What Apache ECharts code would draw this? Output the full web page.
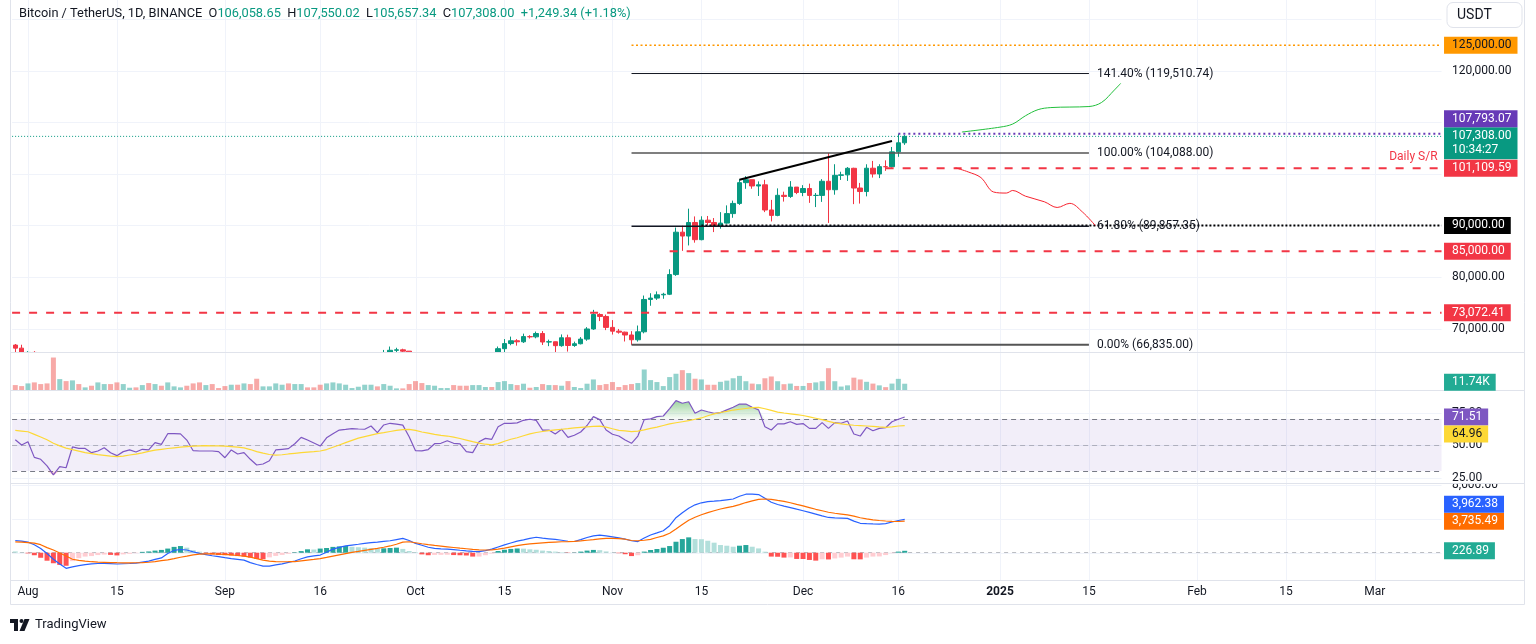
<!DOCTYPE html>
<html>
<head>
<meta charset="utf-8">
<title>BTCUSDT 1D</title>
<script src="https://cdn.jsdelivr.net/npm/echarts/dist/echarts.min.js"></script>
<style>
html,body{margin:0;padding:0;background:#fff;}
#chart{width:1536px;height:644px;}
</style>
</head>
<body>
<div id="chart"></div>
<script>
// ================= DATA =================
const startDate = '2024-07-30';
const axisEndDate = '2025-03-11';

// daily [open, high, low, close] from 2024-07-30 to 2024-12-17
const ohlc = [
[66784,66990,65302,66189],[66189,66849,64530,64620],
[64620,65593,62248,65354],[65354,65596,61236,61498],[61498,62198,59850,60697],[60697,61117,57122,58161],[58161,58305,49000,54018],
[54018,57040,53962,56022],[56022,57736,54558,55134],[55134,62745,54730,61685],[61685,61744,59565,60837],[60837,61470,60242,60923],
[60923,61858,58286,58713],[58713,60680,57688,59346],[59346,61578,58392,60587],[60587,61800,58433,58683],[58683,59849,56078,57541],
[57541,59817,57098,58874],[58874,59700,58785,59491],[59491,60284,58408,58427],[58427,59617,57787,59438],[59438,61400,58548,59013],
[59013,61820,58783,61157],[61157,61400,59724,60381],[60381,64955,60345,64094],[64094,64513,63519,64179],[64179,65000,63773,64520],
[64520,64960,62800,62834],[62834,63213,58034,59416],[59416,60235,57860,59034],[59034,61166,58755,59359],[59359,59944,57701,59123],
[59123,59462,58744,58973],
[58973,59054,57118,57301],[57301,59425,57128,59132],[59132,59809,57415,57487],[57487,58519,55606,57970],[57970,58327,55643,56160],
[56160,56995,52550,53962],[53962,54850,53745,54160],[54160,55318,53629,54869],[54869,58088,54591,57042],[57042,58044,56386,57635],
[57635,57981,55545,57338],[57338,58588,57324,58127],[58127,60676,57632,60571],[60571,60656,59537,60005],[60005,60381,58696,59182],
[59182,59209,57493,58192],[58192,61320,57610,60309],[60309,61786,59174,61759],[61759,63850,61555,62947],[62947,64133,62350,63201],
[63201,63559,62758,63348],[63348,64000,62357,63578],[63578,64745,62538,63650],[63650,64688,62700,64262],[64262,64817,62947,63152],
[63152,65839,62670,65173],[65173,66498,64819,65769],[65769,66260,65422,65858],[65858,66076,65432,65602],[65602,65618,62856,63327],
[63327,64130,60164,60805],[60805,62370,59996,60649],[60649,61477,59828,60752],[60752,62484,60459,62086],[62086,62370,61689,62110],
[62110,62975,61798,62819],[62819,64478,62128,62224],[62224,63200,61860,62160],[62160,62543,60300,60636],[60636,61321,58946,60700],
[60700,63417,60087,62540],[62540,63480,62487,63206],[63206,63285,62050,62870],[62870,66500,62457,66083],[66083,67950,64800,67074],
[67074,68424,66750,67620],[67620,67939,66666,67421],[67421,69000,67192,68428],[68428,68700,68046,68378],[68378,69400,68100,69031],
[69031,69500,66800,67377],[67377,67836,66571,67426],[67426,67472,65260,66668],[66668,68850,66458,68199],[68199,68800,65520,66698],
[66698,67454,66439,67041],[67041,68332,66913,67939],[67939,70270,67618,69907],[69907,73620,69730,72720],[72720,72962,71436,72339],
[72339,72700,69685,70216],
[70216,71632,68820,69482],[69482,69914,69000,69289],[69289,69390,67478,68741],[68741,69483,66835,67811],[67811,70577,67458,69359],
[69358,76400,69058,75640],[75640,76849,74416,75904],[75904,77199,75555,76538],[76538,76932,75773,76649],[76649,81500,76492,80475],
[80471,89604,80216,88701],[88705,89956,85072,87955],[87955,93265,86127,90585],[90587,91765,86668,87250],[87251,91790,87126,91032],
[91032,91850,90091,90587],[90587,91449,88722,89855],[89855,92594,89376,90465],[90465,93905,90357,92310],[92310,94831,91500,94286],
[94286,98988,94000,98317],[98317,99588,97122,98892],[98892,98908,97136,97673],[97673,98564,95734,97900],[97900,98871,92600,93010],
[93010,94973,90791,91965],[91965,97208,91792,95863],[95863,96564,94640,95643],[95643,98619,95364,97460],[97460,97463,96092,96407],
[96407,97836,95693,97185],[97185,98130,94395,95840],[95840,96305,93578,95849],[95849,99000,94587,98587],[98587,104088,90500,96945],
[96945,101898,95981,99740],[99740,100439,98844,99831],[99831,101351,98657,101109],[101109,101215,94150,97276],[97276,98270,94256,96593],
[96593,101888,95658,101125],[101125,102540,99311,100004],[100004,101895,99205,101424],[101424,102650,100609,101420],[101420,105250,101237,104298],
[104298,107793,103333,106058.66],[106058.65,107550.02,105657.34,107308.00]
];

// volume (thousands of BTC)
const volume = [
9.5,7.8,12.3,14,11.2,12.3,56,19.6,16.2,17.4,11.2,5.6,
8.4,14,11.2,11.2,14,11.2,5,5.6,9.5,12.9,
11.2,8.4,14,7.3,5.6,8.4,12.3,14,9.5,11.2,
4.5,7.8,10.1,10.1,12.3,11.2,20.2,7.3,7.3,12.3,
10.1,12.3,11.2,11.2,5.6,5.6,10.1,12.3,14,12.3,
10.1,4.5,6.7,10.1,10.1,7.3,11.2,8.4,3.9,3.9,
11.2,16.2,12.9,9.5,8.4,4.5,4.5,9.5,8.4,8.4,
9.5,9.5,6.2,6.2,14.6,16.2,11.2,9.5,11.8,5,
6.2,11.2,9.5,9.5,8.4,16.2,6.2,4.5,11.8,19,
9.5,11.2,14.6,6.2,9.5,11.2,12.9,35.8,17.9,14.6,
7.8,23,28.6,34.7,29.7,20.2,19,10,10,15,
17,21,25,16,12,11,21,24,16,11,
12,8,8,13,14,16,38,16,7,9,
22,19,15,12,9,6,12,20,11.74
];

const rsi = [
54,50,52.5,40.5,39,34,27,33.3,32.5,48.5,47.4,47.4,
44.1,45.4,47.9,44.1,41.8,44.9,46.2,44.6,46.7,46.2,
51.8,50.5,58.7,58.7,58.6,53.8,45.6,45.4,45.4,45.4,
44.9,40.2,46.2,43.1,44.1,39,34.6,35.4,37.9,46.2,
46.7,47.2,51,55.9,53.8,51.5,49.2,55.5,58.7,61.5,
62,62.6,62.3,62.1,64.6,59.5,65.4,66.7,66,65.3,
56.4,45.6,45.5,46.5,51,51.3,53.3,51.3,50.8,44.9,
44.1,52.5,55.1,54.4,64.1,66.7,66.7,67,69,69.8,
69,61.5,61.5,58.5,62.1,55.9,57.5,60,65,71.8,
69.5,61.5,58.3,56.9,53.8,51.3,56.9,69.5,70.1,71.8,
72.3,78,84.1,82.1,83.3,74.4,76.9,75.6,74.4,74.9,
77,79,81.5,81.5,79,77,64.1,61.5,66.2,66.2,
67.9,65.9,66.5,62.8,62.8,67.2,62.8,67.2,66.7,68.5,
58.5,56.9,63.6,61,62.8,63.3,67.9,69.8,71.51
];

const rsiMA = [
61.2,60.7,60.2,58.2,56.2,54,51.4,49.3,47.6,46.4,45.3,44.2,
43.4,42.6,42,41.4,41,41.5,42.3,43,44,45.1,
46.1,46.7,47.3,47.8,48.3,48.7,49.1,49.4,49.5,49.4,
49.3,49.1,48.8,48.4,47.8,46.5,44.9,43.7,42.7,42.2,
42.5,43.1,43.6,44.1,44.5,44.9,45.4,46.5,48.3,50,
51.8,53.6,55.3,56.5,57.6,58.7,59.5,60.4,61.2,61.8,
62,61.3,60,59.1,58.2,57.4,56.9,56,55,53.8,
52.6,51.5,50.6,50.1,51.1,52.9,54.4,55.6,57.1,58.5,
59.6,60.4,61,61.6,62.1,62.6,63.2,63.6,64,64.3,
64.5,63.8,62.5,61.3,60.8,60.3,60.7,61.6,62.8,63.8,
65,66.2,67.1,67.9,68.7,69.8,70.8,72.5,73.9,75,
75.9,76.9,77.5,78.1,78.7,78.9,77.9,76.6,75.3,74.6,
74,73.4,72.7,71.7,70.6,69.5,68.2,67,66.3,65.7,
65.2,64.9,64.6,64.3,63.9,63.6,64,64.6,64.96
];

const macd = [
1450,1370,1250,950,500,-100,-780,-1350,-1850,-1680,-1530,-1410,
-1330,-1280,-1260,-1300,-1340,-1310,-1280,-1230,-1110,-990,
-800,-620,-100,270,380,320,90,-80,-220,-360,
-470,-590,-700,-790,-880,-1170,-1400,-1600,-1600,-1450,
-1320,-1150,-980,-720,-490,-370,-280,50,420,630,
800,910,1000,1100,1190,1260,1340,1420,1560,1700,
1450,1100,880,650,510,460,420,370,290,220,
160,130,250,430,680,930,1150,1370,1530,1700,
1830,1730,1650,1570,1480,1360,1330,1550,1800,2000,
2080,2000,1880,1750,1620,1420,1320,1750,2100,2350,
2610,3200,4150,4750,5280,5680,5920,6060,6110,6170,
6270,6370,6700,6940,6960,6900,6450,5980,5720,5520,
5350,5160,4980,4780,4580,4360,4180,4130,4100,4070,
3750,3490,3440,3410,3400,3450,3640,3820,3962.38
];

const signal = [
1280,1250,1200,1130,950,600,320,-30,-400,-780,-900,-1000,
-1070,-1110,-1140,-1170,-1186,-1195,-1195,-1190,-1180,-1130,
-1050,-950,-850,-700,-540,-400,-250,-180,-150,-150,
-160,-200,-260,-330,-400,-530,-700,-880,-1000,-1060,
-1075,-1070,-1050,-960,-870,-790,-700,-560,-400,-250,
-100,30,150,280,400,520,650,800,1000,1250,
1300,1180,1060,950,860,780,700,620,540,470,
400,340,320,330,420,550,700,830,950,1050,
1115,1170,1220,1260,1300,1320,1350,1400,1480,1550,
1650,1700,1700,1680,1600,1450,1420,1480,1590,1800,
2000,2300,2800,3350,3850,4200,4500,4750,4980,5180,
5350,5500,5700,5950,6150,6330,6370,6330,6200,6080,
5930,5730,5550,5350,5150,4980,4800,4680,4580,4480,
4330,4150,4020,3900,3820,3760,3720,3700,3735.49
];

const histogram = [
150,30,-80,-300,-600,-950,-1250,-1450,-1550,-1000,-650,-460,
-400,-280,-220,-260,-320,-200,-130,-60,100,150,
250,330,490,690,790,600,300,120,-100,-200,
-280,-300,-330,-400,-460,-580,-740,-760,-550,-380,
-260,-130,50,190,400,380,490,560,690,750,
790,700,650,600,550,500,520,560,600,450,
200,60,-200,-300,-260,-250,-240,-280,-300,-330,
-460,-460,-300,-100,200,350,450,500,480,400,
350,250,200,130,60,-30,20,130,250,330,
300,150,30,-60,-180,-400,-300,130,320,440,
590,790,1300,1620,1820,1620,1600,1420,1190,910,
830,710,830,910,710,510,120,-460,-480,-580,
-560,-740,-750,-860,-940,-780,-800,-680,-580,-460,
-780,-790,-580,-460,-440,-280,-60,130,226.89
];

// time axis ticks
const timeTickDates = ['2024-08-01','2024-08-15','2024-09-01','2024-09-16','2024-10-01','2024-10-15','2024-11-01','2024-11-15','2024-12-01','2024-12-16','2025-01-01','2025-01-15','2025-02-01','2025-02-15','2025-03-01'];
const timeTickLabels = ['Aug','15','Sep','16','Oct','15','Nov','15','Dec','16','2025','15','Feb','15','Mar'];

// value axis ticks
const priceTicks = [70000,80000,90000,100000,110000,120000,130000];
const rsiTicks = [25,50,75];
const rsiBands = [30,70];
const macdTicks = [0,4000,8000];

// horizontal levels (price, start date; null = from left edge)
const levelPrices = [125000, 107793.07, 107308.00, 101109.59, 90000, 85000, 73072.41];
const levelStarts = ['2024-11-04','2024-12-16',null,'2024-12-14','2024-11-15','2024-11-10',null];

// Fibonacci extension
const fibLabels = ['141.40%','100.00%','61.80%','0.00%'];
const fibPrices = [119510.74, 104088.00, 89857.35, 66835.00];
const fibDates = ['2024-11-04','2025-01-15'];

// trend line
const trendDates = ['2024-11-21','2024-12-15'];
const trendPrices = [98900, 106400];

// projected paths
const bullPathDates = ['2024-12-26','2025-01-01','2025-01-03','2025-01-05','2025-01-07','2025-01-09','2025-01-12','2025-01-15','2025-01-17','2025-01-19','2025-01-20'];
const bullPathPrices = [108150,109100,109700,111300,112500,112900,113000,113100,113900,116300,117600];
const bearPathDates = ['2024-12-25','2024-12-27','2024-12-29','2024-12-31','2025-01-02','2025-01-03','2025-01-05','2025-01-08','2025-01-10','2025-01-12','2025-01-14','2025-01-16'];
const bearPathPrices = [101200,100400,99300,96500,96300,96800,95700,94600,93500,94300,92600,90000];

const headerTitle = 'Bitcoin / TetherUS, 1D, BINANCE';
const headerValues = ['106,058.65','107,550.02','105,657.34','107,308.00','+1,249.34 (+1.18%)'];
const countdown = '10:34:27';

// ================= RENDER =================
const FONT = 'Roboto, "Noto Sans", "DejaVu Sans", sans-serif';
const DAY = 86400000;
const parseD = s => { const p = s.split('-').map(Number); return Date.UTC(p[0], p[1]-1, p[2]); };
const T0 = parseD(startDate);
const idxOf = s => Math.round((parseD(s) - T0) / DAY);
const categories = [];
for (let t = T0; t <= parseD(axisEndDate); t += DAY) categories.push(new Date(t).toISOString().slice(0,10));
const N = categories.length;
const X_MIN = -0.5, X_MAX = N - 0.5;

const UP = '#089981', DOWN = '#f23645';
const W = 1536;
const GL = 12.1, STEP = 6.353;
const GR = W - GL - STEP * N;
const PANES = [[0, 352.5], [353.2, 390.7], [391, 483], [484, 580]];
const RANGES = [[65340, 133786], [0, 63.3], [20.77, 91.54], [-3238, 8150]];

const tickMap = new Map(timeTickDates.map((d, i) => [d, timeTickLabels[i]]));

const grids = PANES.map(p => ({left: GL, right: GR, top: p[0], height: p[1] - p[0]}));
const xAxes = PANES.map((p, g) => ({
  type: 'category', gridIndex: g, data: categories, boundaryGap: true, z: 10,
  axisLine: {show: false}, axisTick: {show: false}, splitLine: {show: false},
  axisPointer: {show: false},
  axisLabel: g === 3 ? {
    show: true, interval: (i, v) => tickMap.has(v),
    formatter: v => tickMap.get(v) === '2025' ? '{b|2025}' : (tickMap.get(v) || ''),
    color: '#131722', fontSize: 12, fontFamily: FONT, margin: 6,
    rich: {b: {fontWeight: 'bold', color: '#131722', fontSize: 12, fontFamily: FONT}}
  } : {show: false}
}));
xAxes.push({type: 'value', gridIndex: 0, min: X_MIN, max: X_MAX, show: false});
const yAxes = PANES.map((p, g) => ({type: 'value', gridIndex: g, min: RANGES[g][0], max: RANGES[g][1], show: false, scale: true}));

const series = [];
// candles (z below the lower-pane mask so that they are cut at the pane edge)
series.push({
  type: 'candlestick', xAxisIndex: 0, yAxisIndex: 0, z: 1, clip: true, barWidth: 5,
  data: ohlc.map(d => [d[0], d[3], d[2], d[1]]),
  itemStyle: {color: UP, color0: DOWN, borderColor: UP, borderColor0: DOWN, borderWidth: 1}
});
// volume
series.push({
  type: 'bar', xAxisIndex: 1, yAxisIndex: 1, barWidth: 5, z: 5,
  data: volume.map((v, i) => ({value: v, itemStyle: {color: ohlc[i][3] >= ohlc[i][0] ? 'rgba(38,166,154,0.5)' : 'rgba(239,83,80,0.5)'}}))
});
// RSI line + dashed levels
series.push({
  type: 'line', xAxisIndex: 2, yAxisIndex: 2, data: rsi, symbol: 'none', z: 6, silent: true,
  lineStyle: {color: '#7e57c2', width: 1.2},
  markLine: {silent: true, symbol: 'none', label: {show: false}, animation: false, data: [
    {yAxis: 70, lineStyle: {color: '#787b86', type: [5, 4], width: 1}},
    {yAxis: 50, lineStyle: {color: 'rgba(120,123,134,0.5)', type: [5, 4], width: 1}},
    {yAxis: 30, lineStyle: {color: '#787b86', type: [5, 4], width: 1}}
  ]}
});
// overbought / oversold gradient fills
series.push({type: 'line', xAxisIndex: 2, yAxisIndex: 2, stack: 'ob', data: rsi.map(() => 70), symbol: 'none', lineStyle: {opacity: 0}, silent: true, z: 5});
series.push({type: 'line', xAxisIndex: 2, yAxisIndex: 2, stack: 'ob', data: rsi.map(v => Math.max(v - 70, 0)), symbol: 'none', lineStyle: {opacity: 0}, silent: true, z: 5,
  areaStyle: {opacity: 1, color: {type: 'linear', x: 0, y: 0, x2: 0, y2: 1, colorStops: [{offset: 0, color: 'rgba(76,175,80,0.55)'}, {offset: 1, color: 'rgba(76,175,80,0.04)'}]}}});
series.push({type: 'line', xAxisIndex: 2, yAxisIndex: 2, stack: 'os', data: rsi.map(v => Math.min(v, 30)), symbol: 'none', lineStyle: {opacity: 0}, silent: true, z: 5});
series.push({type: 'line', xAxisIndex: 2, yAxisIndex: 2, stack: 'os', data: rsi.map(v => 30 - Math.min(v, 30)), symbol: 'none', lineStyle: {opacity: 0}, silent: true, z: 5,
  areaStyle: {opacity: 1, color: {type: 'linear', x: 0, y: 0, x2: 0, y2: 1, colorStops: [{offset: 0, color: 'rgba(242,54,69,0.04)'}, {offset: 1, color: 'rgba(242,54,69,0.5)'}]}}});
series.push({type: 'line', xAxisIndex: 2, yAxisIndex: 2, data: rsiMA, symbol: 'none', z: 6, silent: true, lineStyle: {color: '#fdd835', width: 1.2}});
// MACD
series.push({
  type: 'bar', xAxisIndex: 3, yAxisIndex: 3, barWidth: 5, z: 5,
  data: histogram.map((v, i) => {
    const p = i > 0 ? histogram[i - 1] : v;
    const c = v >= 0 ? (v > p ? '#26a69a' : '#b2dfdb') : (v < p ? '#ff5252' : '#ffcdd2');
    return {value: v, itemStyle: {color: c}};
  }),
  markLine: {silent: true, symbol: 'none', label: {show: false}, data: [{yAxis: 0, lineStyle: {color: 'rgba(120,123,134,0.5)', type: [4, 4], width: 1}}]}
});
series.push({type: 'line', xAxisIndex: 3, yAxisIndex: 3, data: macd, symbol: 'none', z: 6, silent: true, lineStyle: {color: '#2962ff', width: 1.2}});
series.push({type: 'line', xAxisIndex: 3, yAxisIndex: 3, data: signal, symbol: 'none', z: 6, silent: true, lineStyle: {color: '#ff6d00', width: 1.2}});

// overlays on the main pane (value x-axis = day index)
const levelStyles = [
  {color: '#ff9800', type: [2, 2.5], width: 1.6},
  {color: '#673ab7', type: [2, 3], width: 2},
  {color: '#089981', type: [1, 2], width: 1},
  {color: '#f23645', type: [8, 9], width: 2},
  {color: '#000000', type: [2, 2], width: 2},
  {color: '#f23645', type: [8, 9], width: 2},
  {color: '#f23645', type: [8, 9], width: 2}
];
levelPrices.forEach((p, i) => {
  const from = levelStarts[i] ? idxOf(levelStarts[i]) : X_MIN;
  series.push({type: 'line', xAxisIndex: 4, yAxisIndex: 0, z: 5, silent: true, symbol: 'none',
    data: [[from, p], [X_MAX, p]], lineStyle: levelStyles[i]});
});
const fibStyles = [{color: '#131722', width: 1}, {color: '#555', width: 1.5}, {color: '#131722', width: 1.5}, {color: '#555', width: 2}];
fibPrices.forEach((p, i) => {
  series.push({type: 'line', xAxisIndex: 4, yAxisIndex: 0, z: 6, silent: true, symbol: 'none',
    data: [[idxOf(fibDates[0]), p], [idxOf(fibDates[1]), p]], lineStyle: fibStyles[i],
    endLabel: {show: true, distance: 8, color: '#131722', fontSize: 12, fontFamily: FONT,
      formatter: () => fibLabels[i] + ' (' + p.toLocaleString('en-US', {minimumFractionDigits: 2, maximumFractionDigits: 2}) + ')'}});
});
series.push({type: 'line', xAxisIndex: 4, yAxisIndex: 0, z: 7, silent: true, symbol: 'none',
  data: trendDates.map((d, i) => [idxOf(d), trendPrices[i]]), lineStyle: {color: '#000', width: 2}});
series.push({type: 'line', xAxisIndex: 4, yAxisIndex: 0, z: 7, silent: true, symbol: 'none', smooth: 0.35,
  data: bullPathDates.map((d, i) => [idxOf(d), bullPathPrices[i]]), lineStyle: {color: '#22c03c', width: 1}});
series.push({type: 'line', xAxisIndex: 4, yAxisIndex: 0, z: 7, silent: true, symbol: 'none', smooth: 0.35,
  data: bearPathDates.map((d, i) => [idxOf(d), bearPathPrices[i]]), lineStyle: {color: '#f7232f', width: 1}});

const chart = echarts.init(document.getElementById('chart'), null, {renderer: 'canvas'});
chart.setOption({
  animation: false, backgroundColor: '#ffffff', textStyle: {fontFamily: FONT},
  grid: grids, xAxis: xAxes, yAxis: yAxes, series: series
});

// ---------- graphics computed through the axes ----------
const G = [];
const py = (a, v) => chart.convertToPixel({yAxisIndex: a}, v);
const plotL = chart.convertToPixel({xAxisIndex: 4}, X_MIN);
const plotR = chart.convertToPixel({xAxisIndex: 4}, X_MAX);
const GRID_C = '#f0f3fa', SEP_C = '#e0e3eb';
const line = (x1, y1, x2, y2, c, z, w) => ({type: 'line', silent: true, z: z, shape: {x1, y1, x2, y2}, style: {stroke: c, lineWidth: w || 1}});

// mask: hides candle parts that fall below the price pane
G.push({type: 'rect', silent: true, z: 2, shape: {x: 0, y: PANES[0][1], width: W, height: 644 - PANES[0][1]}, style: {fill: '#ffffff'}});

// horizontal gridlines
[[0, priceTicks], [2, rsiTicks], [3, macdTicks]].forEach(([a, ticks]) => {
  ticks.forEach(v => {
    const y = Math.round(py(a, v)) + 0.5;
    if (y > PANES[a][0] && y < PANES[a][1]) G.push(line(plotL, y, plotR, y, GRID_C, a === 0 ? 0 : 3));
  });
});
// vertical gridlines
timeTickDates.forEach(d => {
  const x = Math.round(chart.convertToPixel({xAxisIndex: 0}, d)) + 0.5;
  PANES.forEach((p, a) => G.push(line(x, p[0], x, p[1], GRID_C, a === 0 ? 0 : 3)));
});
// RSI 30-70 background band
const bandTop = py(2, rsiBands[1]), bandBot = py(2, rsiBands[0]);
G.push({type: 'rect', silent: true, z: 4, shape: {x: plotL, y: bandTop, width: plotR - plotL, height: bandBot - bandTop}, style: {fill: 'rgba(126,87,194,0.1)'}});

// separators & frame
[352.5, 390.5, 483.5, 580.5].forEach(y => G.push(line(10.5, y, 1524.5, y, SEP_C, 90)));
G.push(line(10.5, 0, 10.5, 604.5, SEP_C, 90));
G.push(line(1524.5, 0, 1524.5, 604.5, SEP_C, 90));
G.push(line(10.5, 604.5, 1524.5, 604.5, SEP_C, 90));

// badges
const fmt2 = v => v.toLocaleString('en-US', {minimumFractionDigits: 2, maximumFractionDigits: 2});
const BX = plotR + 2.5;
function layout(list, pane) {
  const placed = [];
  list.forEach(b => { b.h = b.lines === 2 ? 32 : 17; b.top = b.y - (b.lines === 2 ? 9 : 8.5); });
  list.filter(b => !b.dir).forEach(b => placed.push(b));
  list.filter(b => b.dir).forEach(b => {
    for (let k = 0; k < 6; k++) {
      let moved = false;
      placed.forEach(p => {
        if (b.top < p.top + p.h && b.top + b.h > p.top) { b.top = b.dir === 'up' ? p.top - b.h : p.top + p.h; moved = true; }
      });
      if (!moved) break;
    }
    placed.push(b);
  });
  list.forEach(b => {
    if (b.top + b.h > pane[1]) b.top = pane[1] - b.h;
    if (b.top < pane[0]) b.top = pane[0];
  });
  return list;
}
const badgeEl = b => ({type: 'text', silent: true, z: 100, x: BX, y: b.top,
  style: {text: b.text, fill: b.fg || '#ffffff', backgroundColor: b.bg, padding: [2, 6, 2, 8],
    fontSize: 12, fontFamily: FONT, lineHeight: b.lines === 2 ? 14 : 13, align: 'left', verticalAlign: 'top'}});

const mainBadges = layout([
  {y: py(0, levelPrices[0]), text: fmt2(levelPrices[0]), bg: '#ff9800', fg: '#131722'},
  {y: py(0, levelPrices[2]), text: fmt2(levelPrices[2]) + '\n' + countdown, bg: '#089981', lines: 2},
  {y: py(0, levelPrices[1]), text: fmt2(levelPrices[1]), bg: '#673ab7', dir: 'up'},
  {y: py(0, levelPrices[3]), text: fmt2(levelPrices[3]), bg: '#f23645', dir: 'down'},
  {y: py(0, levelPrices[4]), text: fmt2(levelPrices[4]), bg: '#000000'},
  {y: py(0, levelPrices[5]), text: fmt2(levelPrices[5]), bg: '#f23645'},
  {y: py(0, levelPrices[6]), text: fmt2(levelPrices[6]), bg: '#f23645'}
], PANES[0]);
const lastI = volume.length - 1;
const volBadges = layout([{y: py(1, volume[lastI]), text: volume[lastI].toFixed(2) + 'K', bg: '#22ab94'}], PANES[1]);
const rsiBadges = layout([
  {y: py(2, rsi[lastI]), text: fmt2(rsi[lastI]), bg: '#7e57c2'},
  {y: py(2, rsiMA[lastI]), text: fmt2(rsiMA[lastI]), bg: '#fdd835', fg: '#131722', dir: 'down'}
], PANES[2]);
const macdBadges = layout([
  {y: py(3, signal[lastI]), text: fmt2(signal[lastI]), bg: '#ff6d00'},
  {y: py(3, macd[lastI]), text: fmt2(macd[lastI]), bg: '#2962ff', dir: 'up'},
  {y: py(3, histogram[lastI]), text: fmt2(histogram[lastI]), bg: '#22ab94'}
], PANES[3]);
[...mainBadges, ...volBadges, ...rsiBadges, ...macdBadges].forEach(b => G.push(badgeEl(b)));

// plain scale labels
const usdtBox = {top: 2, h: 26};
const labelEl = (y, text, z) => ({type: 'text', silent: true, z: z, x: BX + 8, y: y,
  style: {text: text, fill: '#131722', fontSize: 12, fontFamily: FONT, align: 'left', verticalAlign: 'middle'}});
priceTicks.forEach(v => {
  const y = py(0, v);
  const hit = [...mainBadges, usdtBox].some(b => y - 7 < b.top + b.h && y + 7 > b.top);
  if (!hit && y > 0 && y < PANES[0][1]) G.push(labelEl(y, fmt2(v), 50));
});
rsiTicks.forEach(v => G.push(labelEl(py(2, v), fmt2(v), 60)));
macdTicks.forEach(v => G.push(labelEl(py(3, v), fmt2(v), 50)));
// mask the part of MACD scale labels that spills above its pane
G.push({type: 'rect', silent: true, z: 55, shape: {x: plotR + 1, y: PANES[3][0] - 10, width: 1524 - plotR - 1.5, height: 10}, style: {fill: '#ffffff'}});
G.push(line(plotR + 1, 483.5, 1524.5, 483.5, SEP_C, 58));

// "Daily S/R" text
G.push({type: 'text', silent: true, z: 20, x: plotR - 4, y: py(0, levelPrices[3]) - 11,
  style: {text: 'Daily S/R', fill: '#f23645', fontSize: 12, fontFamily: FONT, align: 'right', verticalAlign: 'middle'}});

// header legend
G.push({type: 'text', silent: true, z: 100, x: 19, y: 14,
  style: {
    text: '{n|' + headerTitle + '}  {n|O}{v|' + headerValues[0] + '}  {n|H}{v|' + headerValues[1] + '}  {n|L}{v|' + headerValues[2] + '}  {n|C}{v|' + headerValues[3] + '}  {v|' + headerValues[4] + '}',
    verticalAlign: 'middle', align: 'left', fontSize: 12.8, fontFamily: FONT, fill: '#131722',
    rich: {n: {fill: '#131722', fontSize: 12.8, fontFamily: FONT}, v: {fill: '#089981', fontSize: 12.8, fontFamily: FONT}}
  }});
// currency button
G.push({type: 'rect', silent: true, z: 100, shape: {x: 1447, y: 2.5, width: 75, height: 25, r: 6}, style: {fill: '#ffffff', stroke: '#e0e3eb', lineWidth: 1}});
G.push({type: 'text', silent: true, z: 101, x: 1457, y: 15, style: {text: 'USDT', fill: '#131722', fontSize: 14, fontFamily: FONT, verticalAlign: 'middle'}});

// TradingView mark
G.push({type: 'rect', silent: true, z: 100, shape: {x: 10, y: 619, width: 8, height: 4}, style: {fill: '#131722'}});
G.push({type: 'rect', silent: true, z: 100, shape: {x: 14, y: 619, width: 4, height: 12}, style: {fill: '#131722'}});
G.push({type: 'circle', silent: true, z: 100, shape: {cx: 21.5, cy: 621, r: 2}, style: {fill: '#131722'}});
G.push({type: 'polygon', silent: true, z: 100, shape: {points: [[24.5, 619], [29.5, 619], [24.5, 631], [19.5, 631]]}, style: {fill: '#131722'}});
G.push({type: 'text', silent: true, z: 100, x: 35, y: 625, style: {text: 'TradingView', fill: '#131722', fontSize: 13, fontFamily: FONT, verticalAlign: 'middle'}});

chart.setOption({graphic: {elements: G}});
</script>
</body>
</html>
